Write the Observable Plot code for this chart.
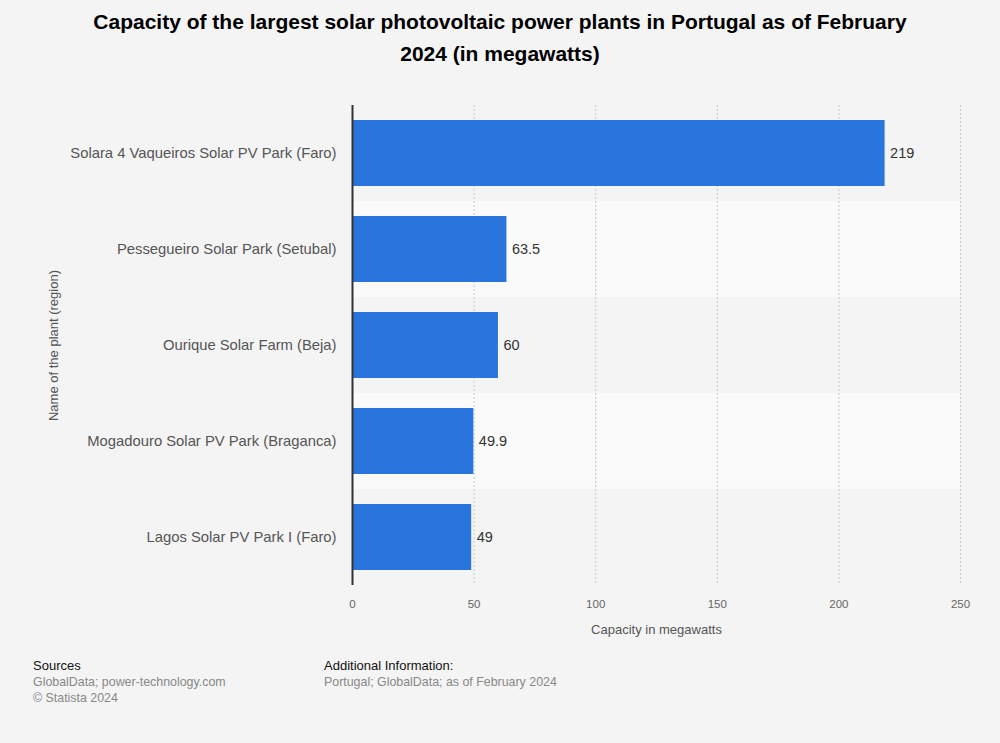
<!DOCTYPE html>
<html>
<head>
<meta charset="utf-8">
<script src="https://cdn.jsdelivr.net/npm/d3@7"></script>
<script src="https://cdn.jsdelivr.net/npm/@observablehq/plot@0.6"></script>
<style>
  html, body { margin: 0; padding: 0; background: #f4f4f4; }
  body { width: 1000px; height: 743px; position: relative; font-family: "Liberation Sans", Arial, sans-serif; }
  #title { position: absolute; top: 6px; left: 40px; width: 920px; text-align: center; font-weight: bold; font-size: 21px; line-height: 32px; color: #000; }
  #chart { position: absolute; top: 90px; left: 0; }
  #footer { position: absolute; top: 657px; left: 33px; width: 960px; }
  .col { position: absolute; top: 0; }
  .head { color: #111; font-size: 13px; line-height: 17px; }
  .txt { color: #888; font-size: 12.4px; line-height: 16px; }
</style>
</head>
<body>
<div id="title">Capacity of the largest solar photovoltaic power plants in Portugal as of February<br>2024 (in megawatts)</div>
<div id="chart"></div>
<div id="footer">
  <div class="col" style="left:0"><div class="head">Sources</div><div class="txt">GlobalData; power-technology.com<br>© Statista 2024</div></div>
  <div class="col" style="left:291px"><div class="head">Additional Information:</div><div class="txt">Portugal; GlobalData; as of February 2024</div></div>
</div>
<script>
const plants = [
  "Solara 4 Vaqueiros Solar PV Park (Faro)",
  "Pessegueiro Solar Park (Setubal)",
  "Ourique Solar Farm (Beja)",
  "Mogadouro Solar PV Park (Braganca)",
  "Lagos Solar PV Park I (Faro)"
];
const capacity = [219, 63.5, 60, 49.9, 49];
const xTicks = [0, 50, 100, 150, 200, 250];

const data = plants.map((p, i) => ({plant: p, value: capacity[i], idx: i}));

const chart = Plot.plot({
  width: 1000,
  height: 560,
  marginLeft: 352,
  marginRight: 40,
  marginTop: 15,
  marginBottom: 65,
  style: {background: "transparent", fontFamily: "Liberation Sans, Arial, sans-serif"},
  x: {domain: [0, 250], ticks: xTicks, label: "Capacity in megawatts"},
  y: {domain: plants, padding: 0, label: "Name of the plant (region)"},
  marks: [
    Plot.barX(data, {y: "plant", x1: 0, x2: 250, fill: d => d.idx % 2 === 1 ? "#fafafa" : "#f4f4f4"}),
    Plot.ruleX(xTicks.filter(t => t > 0), {stroke: "#c8c8c8", strokeDasharray: "2,2", strokeWidth: 1}),
    Plot.barX(data, {y: "plant", x: "value", fill: "#2876dd", insetTop: 15, insetBottom: 15}),
    Plot.ruleX([0], {stroke: "#333", strokeWidth: 2}),
    Plot.text(data, {y: "plant", x: "value", text: d => String(d.value), textAnchor: "start", dx: 5, fill: "#333", fontSize: 14.5}),
    Plot.axisX({ticks: xTicks, tickSize: 0, tickPadding: 14, fontSize: 11.5, color: "#666", label: "Capacity in megawatts", labelAnchor: "center", labelArrow: "none", labelOffset: 48}),
    Plot.axisY({tickSize: 0, tickPadding: 16, fontSize: 14.8, color: "#555", label: "Name of the plant (region)", labelAnchor: "center", labelArrow: "none", labelOffset: 304})
  ]
});
chart.querySelectorAll("g[aria-label='x-axis label'] text, g[aria-label='y-axis label'] text").forEach(t => {
  t.setAttribute("font-size", "13");
  t.setAttribute("fill", "#555");
});
document.getElementById("chart").appendChild(chart);
</script>
</body>
</html>
